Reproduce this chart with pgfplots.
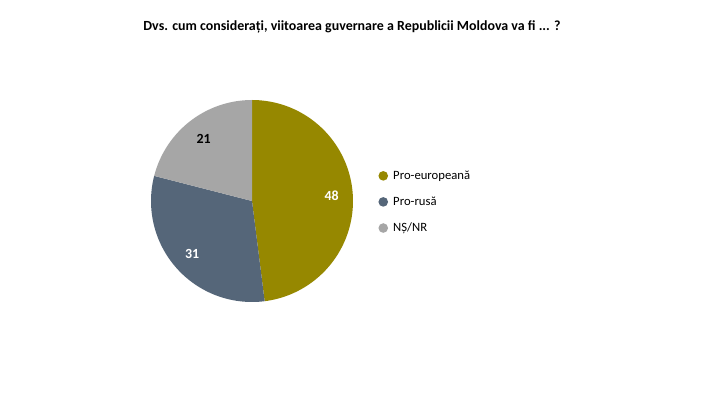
\documentclass[border=0pt]{standalone}
\usepackage{fontspec}
\setmainfont{Carlito}
\usepackage{pgfplots}
\pgfplotsset{compat=1.18}
\definecolor{cEU}{HTML}{968800}
\definecolor{cRU}{HTML}{556679}
\definecolor{cNS}{HTML}{A6A6A6}
% values (percent)
\def\vEU{48}
\def\vRU{31}
\def\vNS{21}
\begin{document}
\begin{tikzpicture}
\useasboundingbox[fill=white] (0,0) rectangle (720bp,405bp);
\node[font=\bfseries\fontsize{14}{16}\selectfont] at (352bp,378bp) {Dvs. cum considerați, viitoarea guvernare a Republicii Moldova va fi ... ?};
\pgfmathsetmacro{\aA}{90}
\pgfmathsetmacro{\aB}{90-3.6*\vEU}
\pgfmathsetmacro{\aC}{\aB-3.6*\vRU}
\pgfmathsetmacro{\aD}{\aC-3.6*\vNS}
\pgfmathsetmacro{\mA}{(\aA+\aB)/2}
\pgfmathsetmacro{\mB}{(\aB+\aC)/2}
\pgfmathsetmacro{\mC}{(\aC+\aD)/2}
\begin{axis}[
  at={(252bp,204bp)}, anchor=center,
  width=202bp, height=202bp, scale only axis,
  xmin=-1, xmax=1, ymin=-1, ymax=1,
  hide axis, clip=false,
  legend image code/.code={\fill[#1] (3bp,0bp) circle (4.8bp); \path (11bp,0bp);},
  legend style={draw=none, fill=none, at={(1.125,0.495)}, anchor=west,
    font=\fontsize{12.7}{14}\selectfont, row sep=12bp,
    inner sep=0pt, nodes={inner sep=2pt}},
  legend cell align=left,
]
\addplot[fill=cEU, draw=none, domain=\aA:\aB, samples=90, variable=\t] ({cos(t)},{sin(t)}) -- (0,0) -- cycle;
\addlegendentry{Pro-europeană}
\addplot[fill=cRU, draw=none, domain=\aB:\aC, samples=70, variable=\t] ({cos(t)},{sin(t)}) -- (0,0) -- cycle;
\addlegendentry{Pro-rusă}
\addplot[fill=cNS, draw=none, domain=\aC:\aD, samples=50, variable=\t] ({cos(t)},{sin(t)}) -- (0,0) -- cycle;
\addlegendentry{NȘ/NR}
\node[font=\bfseries\fontsize{14}{16}\selectfont, text=white] at (axis cs:{0.79*cos(\mA)},{0.79*sin(\mA)}) {\vEU};
\node[font=\bfseries\fontsize{14}{16}\selectfont, text=white] at (axis cs:{0.79*cos(\mB)},{0.79*sin(\mB)}) {\vRU};
\node[font=\bfseries\fontsize{14}{16}\selectfont, text=black] at (axis cs:{0.78*cos(\mC)},{0.78*sin(\mC)}) {\vNS};
\end{axis}
\end{tikzpicture}
\end{document}
